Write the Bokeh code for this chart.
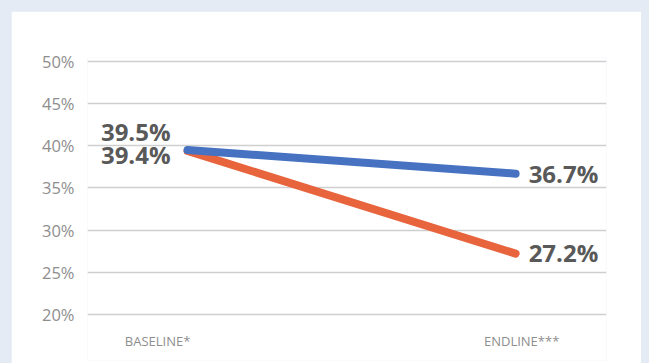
from bokeh.plotting import figure
from bokeh.models import FixedTicker, PrintfTickFormatter, ColumnDataSource, Range1d
from bokeh.layouts import column
from bokeh.core.properties import value
from bokeh.embed import file_html
from bokeh.resources import INLINE

# ---- data ----
categories = ["BASELINE*", "ENDLINE***"]
series_blue = [39.5, 36.7]
series_orange = [39.4, 27.2]
y_ticks = [20, 25, 30, 35, 40, 45, 50]

BLUE = "#4672C1"
ORANGE = "#E8643C"
x_idx = list(range(len(categories)))

p = figure(width=630, height=352, output_backend="svg", toolbar_location=None,
           x_range=Range1d(-0.305, 1.277), y_range=Range1d(14.5, 50.5),
           min_border_left=76, min_border_right=35, min_border_top=46, min_border_bottom=3)
p.margin = (11, 8, 0, 11)
p.border_fill_color = "white"
p.background_fill_color = "white"
p.outline_line_color = None

p.xaxis.visible = False
p.xgrid.visible = False
yax = p.yaxis[0]
yax.ticker = FixedTicker(ticks=y_ticks)
yax.formatter = PrintfTickFormatter(format="%d%%")
yax.axis_line_color = None
yax.major_tick_line_color = None
yax.major_tick_out = 0
yax.major_tick_in = 0
yax.minor_tick_line_color = None
yax.major_label_standoff = 13
yax.major_label_text_font = "Open Sans"
yax.major_label_text_font_size = "16.5px"
yax.major_label_text_color = "#8E8E8E"
p.ygrid.ticker = FixedTicker(ticks=y_ticks)
p.ygrid.grid_line_color = "#CFCFCF"
p.ygrid.grid_line_width = 1.5

p.line(x_idx, series_orange, line_color=ORANGE, line_width=8, line_cap="round")
p.line(x_idx, series_blue, line_color=BLUE, line_width=8, line_cap="round")

lab_style = dict(text_font=value("Open Sans"), text_font_style="bold",
                 text_font_size="24px", text_color="#595959", text_baseline="alphabetic")

# left labels
p.text(x=[0], y=[series_blue[0]], text=[f"{series_blue[0]:.1f}%"], text_align="right",
       x_offset=-17, y_offset=-19, **lab_style)
p.text(x=[0], y=[series_orange[0]], text=[f"{series_orange[0]:.1f}%"], text_align="right",
       x_offset=-17, y_offset=4, **lab_style)
# right labels
p.text(x=[1], y=[series_blue[1]], text=[f"{series_blue[1]:.1f}%"], text_align="left",
       x_offset=13, y_offset=0, **lab_style)
p.text(x=[1], y=[series_orange[1]], text=[f"{series_orange[1]:.1f}%"], text_align="left",
       x_offset=13, y_offset=-1, **lab_style)

# category labels
cat_src = ColumnDataSource(dict(x=x_idx, y=[y_ticks[0]] * len(categories), text=categories,
                                xo=[-30, 6]))
p.text(x="x", y="y", text="text", x_offset="xo", y_offset=27, source=cat_src,
       text_font=value("Open Sans"), text_font_size="13px", text_color="#8E8E8E",
       text_align="center", text_baseline="middle")

layout = column(p, width=649, height=363, styles={"background-color": "#E4EBF5"})

open("out.html", "w").write(file_html(layout, INLINE))
